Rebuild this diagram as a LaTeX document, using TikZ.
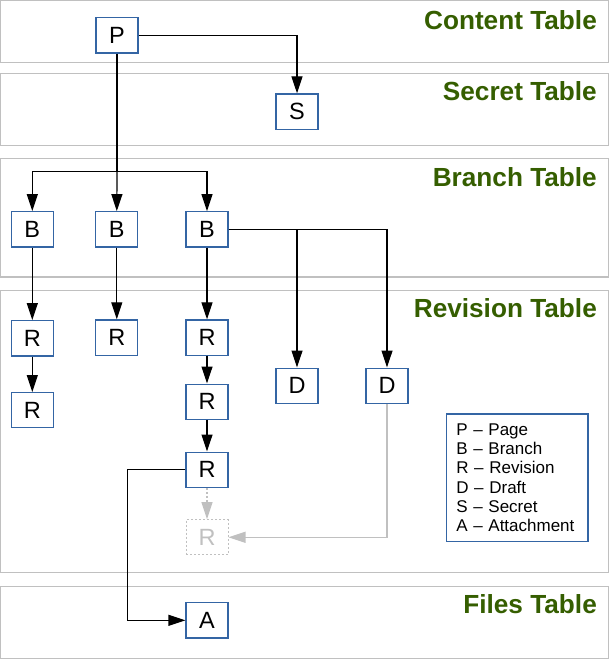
\documentclass[tikz,border=0pt]{standalone}
\usepackage{fontspec}
\setmainfont{Liberation Sans}
\usetikzlibrary{arrows.meta}
\definecolor{boxblue}{HTML}{3465A4}
\definecolor{titlegreen}{HTML}{355E00}
\definecolor{panelgray}{HTML}{C0C0C0}
\definecolor{ghostgray}{HTML}{C0C0C0}
\begin{document}
\begin{tikzpicture}[x=1pt,y=-1pt,
  panel/.style={draw=panelgray,line width=1.2pt},
  tabletitle/.style={anchor=base east,font=\fontsize{26.2}{30}\selectfont\bfseries,text=titlegreen,inner sep=0pt},
  entity/.style={draw=boxblue,line width=1.2pt,fill=white,minimum width=42pt,minimum height=35.2pt,inner sep=0pt,font=\fontsize{23.5}{27}\selectfont},
  ghost/.style={entity,draw=ghostgray,dash pattern=on 2pt off 2pt,line width=1pt,text=ghostgray},
  arr/.style={line width=1.2pt,-{Triangle[length=17pt,width=11pt]}},
  ghostarr/.style={line width=1.2pt,draw=ghostgray,-{Triangle[length=17pt,width=11pt]}},
  legendbox/.style={draw=boxblue,line width=1.2pt,anchor=north west,minimum width=141.6pt,minimum height=127.7pt,text width=121.6pt,inner xsep=10pt,inner ysep=0pt,align=left,font=\fontsize{17}{19.3}\selectfont}
]
\useasboundingbox (0,0) rectangle (610,659);

% table bands
\draw[panel] (0.7,0.7) rectangle (608.7,62.3);
\draw[panel] (0.7,73.3) rectangle (608.7,145.3);
\draw[panel] (0.7,158.3) rectangle (608.7,277);
\draw[panel] (0.7,290.3) rectangle (608.7,572.3);
\draw[panel] (0.7,586.3) rectangle (608.7,658.3);

% titles
\node[tabletitle] (tcontent) at (597,29.3) {Content Table};
\node[tabletitle] (tsecret) at (597,100) {Secret Table};
\node[tabletitle] (tbranch) at (597,186) {Branch Table};
\node[tabletitle] (trevision) at (597,317.7) {Revision Table};
\node[tabletitle] (tfiles) at (597,613.3) {Files Table};

% entities
\node[entity] (P) at (117,35.3) {P};
\node[entity] (S) at (297,111.5) {S};
\node[entity] (B1) at (32.3,229.3) {B};
\node[entity] (B2) at (116.8,229.3) {B};
\node[entity] (B3) at (207,229.3) {B};
\node[entity] (R11) at (32.3,338.3) {R};
\node[entity] (R12) at (32.3,410.2) {R};
\node[entity] (R21) at (116.8,337.5) {R};
\node[entity] (R31) at (207,337.5) {R};
\node[entity] (R32) at (207,401.7) {R};
\node[entity] (R33) at (207,469.7) {R};
\node[ghost] (R34) at (207,537.3) {R};
\node[entity] (D1) at (297,385.7) {D};
\node[entity] (D2) at (387,385.7) {D};
\node[entity] (A) at (207,620.3) {A};

% legend
\node[legendbox] (legend) at (445.7,413.3) {P -- Page\\B -- Branch\\R -- Revision\\D -- Draft\\S -- Secret\\A -- Attachment};

% connectors
\coordinate (split) at (117,171.3);
\coordinate (bend) at (127.3,469.7);
\draw[arr] (P.east) -| (S.north);
\draw[line width=1.2pt] (P.south) -- (split);
\draw[arr] (split) -| (B1.north);
\draw[arr] (split) -- (B2.north);
\draw[arr] (split) -| (B3.north);
\draw[arr] (B1) -- (R11);
\draw[arr] (R11) -- (R12);
\draw[arr] (B2) -- (R21);
\draw[arr] (B3) -- (R31);
\draw[arr] (R31) -- (R32);
\draw[arr] (R32) -- (R33);
\draw[arr] (B3.east) -| (D1.north);
\draw[arr] (B3.east) -| (D2.north);
\draw[ghostarr,dash pattern=on 2pt off 2pt] (R33.south) -- (R34.north);
\draw[ghostarr] (D2.south) |- (R34.east);
\draw[arr] (R33.west) -- (bend) |- (A.west);
\end{tikzpicture}
\end{document}
